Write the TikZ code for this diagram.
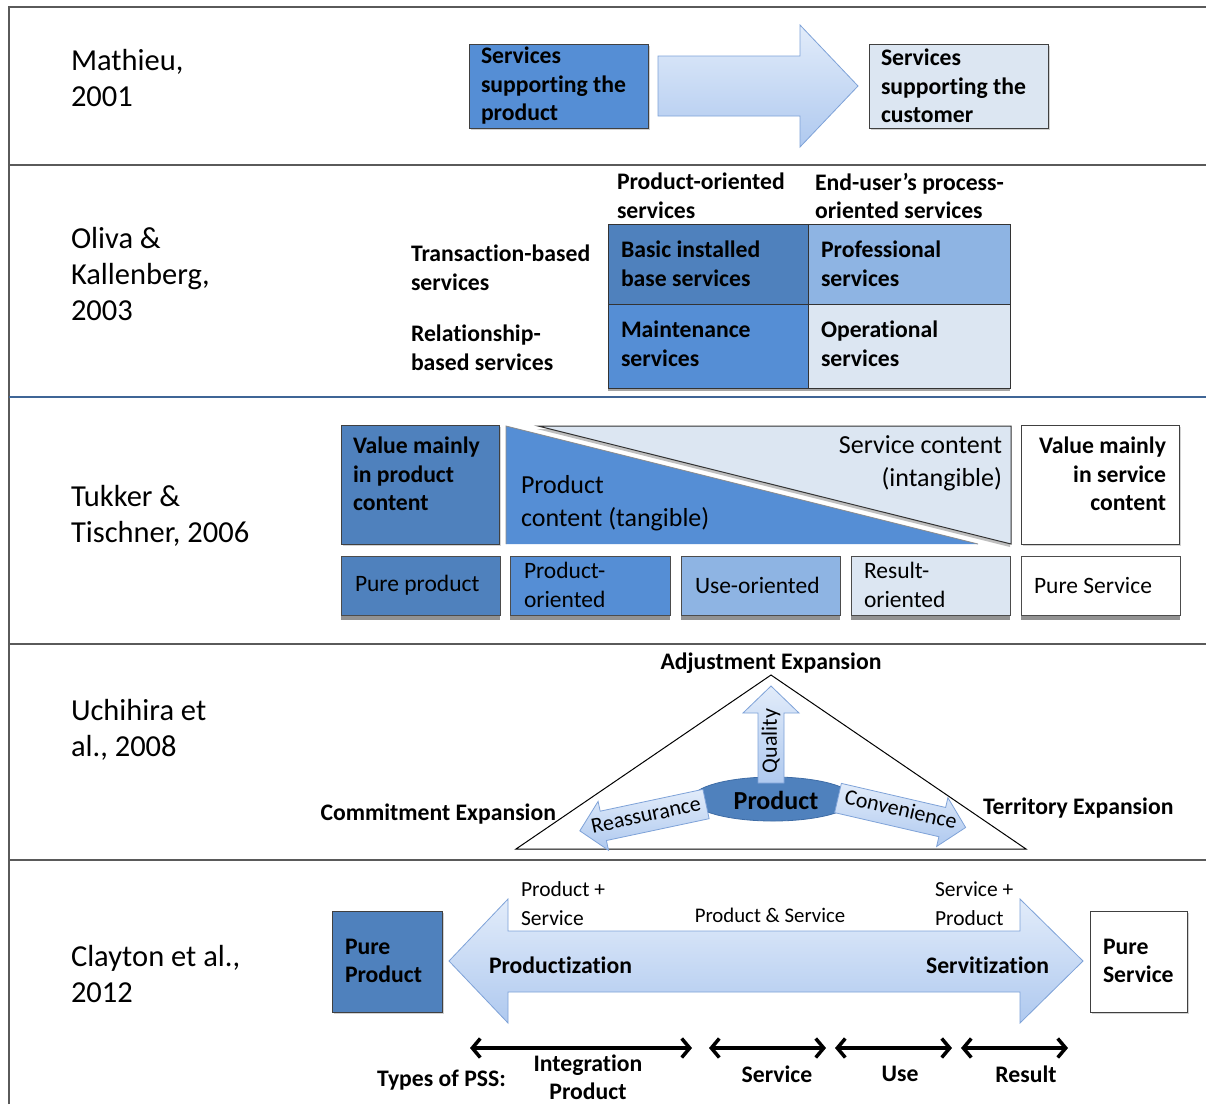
\documentclass[tikz,border=0pt]{standalone}
\usepackage{fontspec}
\setmainfont{Carlito}[Ligatures=NoCommon]
\usetikzlibrary{shadows,arrows.meta,fit,shapes.geometric}

\definecolor{bluedark}{HTML}{4F81BD}
\definecolor{bluemid}{HTML}{558ED5}
\definecolor{bluelight}{HTML}{8EB4E3}
\definecolor{bluepale}{HTML}{DCE6F2}
\definecolor{arrowtop}{HTML}{E2ECFA}
\definecolor{arrowbot}{HTML}{AFC9EF}
\definecolor{arrowedge}{HTML}{7EA2D8}
\definecolor{rulegray}{HTML}{5A5A5A}
\definecolor{ruleblue}{HTML}{3F6596}
\definecolor{ovaledge}{HTML}{3E6CA6}

% font sizes (1pt = 1 unit of the drawing)
\newcommand\fYear{\fontsize{30.5}{36}\selectfont}
\newcommand\fBold{\fontsize{23.7}{28.5}\selectfont\bfseries}
\newcommand\fPlain{\fontsize{23.5}{29}\selectfont}
\newcommand\fSoft{\fontsize{26}{33}\selectfont}
\newcommand\fSmall{\fontsize{21.5}{29}\selectfont}
\newcommand\fMid{\fontsize{20.8}{24}\selectfont}
\newcommand\fArrow{\fontsize{22}{26}\selectfont}
\newcommand\fCore{\fontsize{26}{30}\selectfont\bfseries}

% block arrow: start point, angle, length, shaft width, head width, head length
\newcommand\drawblockarrow[6]{%
  \path[blkarrow, shift={#1}, rotate=#2]
    (0,{-#4/2}) -- ({#3-#6},{-#4/2}) -- ({#3-#6},{-#5/2}) -- (#3,0)
    -- ({#3-#6},{#5/2}) -- ({#3-#6},{#4/2}) -- (0,{#4/2}) -- cycle;}

\tikzset{
  every node/.style={inner sep=0pt, outer sep=0pt},
  panel/.style={draw=black!75, line width=1pt,
    drop shadow={shadow xshift=1.5pt, shadow yshift=-2pt, opacity=0.35}},
  tile/.style={draw=black!70, line width=1pt,
    drop shadow={shadow xshift=0pt, shadow yshift=-4.5pt, opacity=0.85}},
  cell/.style={draw=black!80, line width=1pt},
  year/.style={anchor=west, align=left, font=\fYear},
  heading/.style={anchor=west, align=left, font=\fBold},
  plain/.style={anchor=west, align=left, font=\fPlain},
  soft/.style={align=left, font=\fSoft},
  small/.style={anchor=west, align=left, font=\fSmall},
  blkarrow/.style={draw=arrowedge, line width=0.8pt, top color=arrowtop, bottom color=arrowbot},
  rule/.style={draw=rulegray, line width=1.6pt},
  pss/.style={line width=3.5pt,
    {Straight Barb[length=8pt,width=19pt]}-{Straight Barb[length=8pt,width=19pt]}},
}

\begin{document}
\begin{tikzpicture}[x=1pt, y=-1pt]
\useasboundingbox (0,0) rectangle (1206,1104);
\fill[white] (0,0) rectangle (1206,1104);

% frame and row separators
\draw[rule] (9,1104) -- (9,7) -- (1206,7);
\draw[rule] (9,165) -- (1206,165);
\draw[draw=ruleblue, line width=1.6pt] (9,397) -- (1206,397);
\draw[rule] (9,644) -- (1206,644);
\draw[rule] (9,860) -- (1206,860);

% ---------------- Mathieu, 2001 ----------------
\node[year] (y1) at (71,78) {Mathieu,\\2001};
\node[panel, fill=bluemid, fit={(469,44) (648,128)}] (m1) {};
\node[heading] (m1t) at (481,86) {Services\\supporting the\\product};
\drawblockarrow{(658,86)}{0}{200}{60}{122}{58}
\node[panel, fill=bluepale, fit={(869,44) (1048,128)}] (m2) {};
\node[heading] (m2t) at (881,86) {Services\\supporting the\\customer};

% ---------------- Oliva & Kallenberg, 2003 ----------------
\node[year] (y2) at (71,274) {Oliva \&\\Kallenberg,\\2003};
\node[heading] (h1) at (617,196) {Product-oriented\\services};
\node[heading] (h2) at (815,196) {End-user’s process-\\oriented services};
\node[heading] (r1) at (411,268) {Transaction-based\\services};
\node[heading] (r2) at (411,348) {Relationship-\\based services};
\node[draw=black!70, line width=1pt, fill=black!70,
      drop shadow={shadow xshift=0pt, shadow yshift=-3pt, opacity=0.7},
      fit={(608,224) (1010,388)}] (grid) {};
\node[cell, fill=bluedark, fit={(608,224) (808,304)}] (c11) {};
\node[cell, fill=bluelight, fit={(808,224) (1010,304)}] (c12) {};
\node[cell, fill=bluemid, fit={(608,304) (808,388)}] (c21) {};
\node[cell, fill=bluepale, fit={(808,304) (1010,388)}] (c22) {};
\node[heading] (c11t) at (621,264) {Basic installed\\base services};
\node[heading] (c12t) at (821,264) {Professional\\services};
\node[heading] (c21t) at (621,344) {Maintenance\\services};
\node[heading] (c22t) at (821,344) {Operational\\services};

% ---------------- Tukker & Tischner, 2006 ----------------
\node[year] (y3) at (71,516) {Tukker \&\\Tischner, 2006};
\node[panel, fill=bluedark, fit={(341,425) (499,544)}] (vp) {};
\node[heading] (vpt) at (353,474) {Value mainly\\in product\\content};
\fill[bluemid] (506,426) -- (506,544) -- (978,544) -- cycle;
\draw[black!45, line width=0.8pt] (506,544) -- (506,426) -- (978,544);
\path[fill=bluepale, draw=black!80, line width=1pt,
      drop shadow={shadow xshift=-1pt, shadow yshift=-3pt, opacity=0.5}]
  (538,426) -- (1011,426) -- (1011,544) -- cycle;
\node[soft, anchor=east, align=right] (sc) at (1002,463.5) {Service content\\(intangible)};
\node[soft, anchor=west] (pc) at (521,503.5) {Product\\content (tangible)};
\node[panel, fill=white, fit={(1021,425) (1179,544)}] (vs) {};
\node[heading, anchor=east, align=right] (vst) at (1166,474) {Value mainly\\in service\\content};

\node[tile, fill=bluedark, fit={(341,556) (500,615)}] (k1) {};
\node[tile, fill=bluemid, fit={(510,556) (670,615)}] (k2) {};
\node[tile, fill=bluelight, fit={(681,556) (840,615)}] (k3) {};
\node[tile, fill=bluepale, fit={(851,556) (1010,615)}] (k4) {};
\node[tile, fill=white, fit={(1021,556) (1180,615)}] (k5) {};
\node[plain] (k1t) at (355,585) {Pure product};
\node[plain] (k2t) at (524,585) {Product-\\oriented};
\node[plain] (k3t) at (695,585) {Use-oriented};
\node[plain] (k4t) at (864,585) {Result-\\oriented};
\node[plain] (k5t) at (1034,585) {Pure Service};

% ---------------- Uchihira et al., 2008 ----------------
\node[year] (y4) at (71,730) {Uchihira et\\al., 2008};
\draw[black, line width=1pt] (771,675) -- (1026,849) -- (516,849) -- cycle;
\node[ellipse, fill=bluedark, draw=ovaledge, line width=0.8pt,
      minimum width=162pt, minimum height=44pt] (core) at (773,799) {};
\drawblockarrow{(771,783)}{90}{97}{26}{56}{27}
\drawblockarrow{(706,804)}{192}{129}{30}{50}{24}
\drawblockarrow{(838,798)}{-13}{131}{30}{50}{24}
\node[font=\fArrow, rotate=90] (qual) at (771,741) {Quality};
\node[font=\fArrow, rotate=12] (reas) at (646,815) {Reassurance};
\node[font=\fArrow, rotate=-13] (conv) at (901,809) {Convenience};
\node[font=\fCore] (coret) at (776,800) {Product};
\node[font=\fBold] (adj) at (771,663) {Adjustment Expansion};
\node[font=\fBold, anchor=east] (com) at (556,814) {Commitment Expansion};
\node[font=\fBold, anchor=west] (ter) at (983,808) {Territory Expansion};

% ---------------- Clayton et al., 2012 ----------------
\node[year] (y5) at (71,974) {Clayton et al.,\\2012};
\node[panel, fill=bluedark, fit={(332,911) (442,1012)}] (pp) {};
\node[heading] (ppt) at (345,961) {Pure\\Product};
\node[panel, fill=white, fit={(1090,911) (1187,1012)}] (ps) {};
\node[heading] (pst) at (1103,961) {Pure\\Service};
\path[blkarrow] (449,961) -- (508,899) -- (508,931) -- (1020,931) -- (1020,899)
  -- (1083,961) -- (1020,1023) -- (1020,992) -- (508,992) -- (508,1023) -- cycle;
\node[small] (ps1) at (521,903.5) {Product +\\Service};
\node[small] (ps2) at (935,903.5) {Service +\\Product};
\node[font=\fMid] (ps3) at (770,915) {Product \& Service};
\node[heading] (prodz) at (489,965) {Productization};
\node[heading, anchor=east] (servz) at (1049,965) {Servitization};

\coordinate (a1) at (470,1048);  \coordinate (a2) at (692,1048);
\coordinate (b1) at (709,1048);  \coordinate (b2) at (826,1048);
\coordinate (c1) at (835,1048);  \coordinate (c2) at (952,1048);
\coordinate (d1) at (961,1048);  \coordinate (d2) at (1068,1048);
\draw[pss] (a1) -- (a2);
\draw[pss] (b1) -- (b2);
\draw[pss] (c1) -- (c2);
\draw[pss] (d1) -- (d2);
\node[heading] (types) at (377,1080) {Types of PSS:};
\node[font=\fBold, align=center] (tint) at (588,1077) {Integration\\Product};
\node[font=\fBold] (tsvc) at (777,1074) {Service};
\node[font=\fBold] (tuse) at (900,1074) {Use};
\node[font=\fBold] (tres) at (1026,1074) {Result};
\end{tikzpicture}
\end{document}
